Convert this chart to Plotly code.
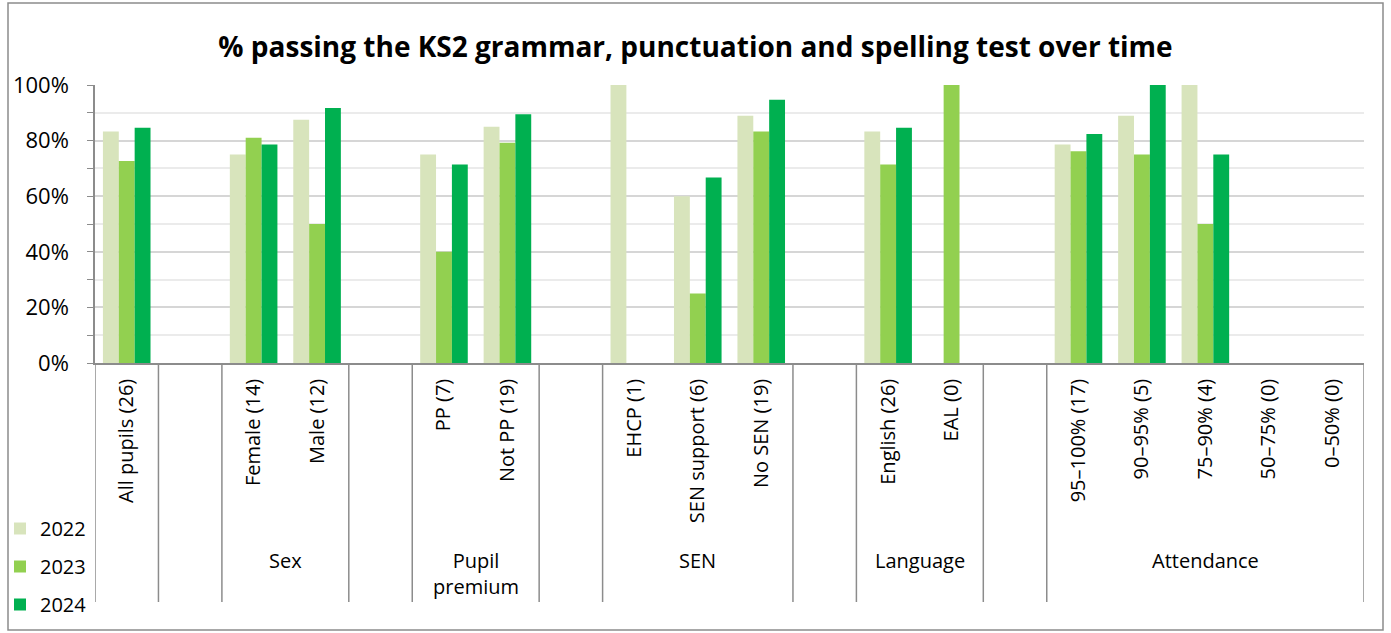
"""KS2 grammar, punctuation and spelling pass rates by pupil group, 2022-2024."""

import plotly.graph_objects as go

CATEGORIES = [
    "All pupils (26)", "",
    "Female (14)", "Male (12)", "",
    "PP (7)", "Not PP (19)", "",
    "EHCP (1)", "SEN support (6)", "No SEN (19)", "",
    "English (26)", "EAL (0)", "",
    "95–100% (17)", "90–95% (5)", "75–90% (4)", "50–75% (0)", "0–50% (0)",
]
GROUP_LABELS = ["", "", "Sex", "", "Pupil<br>premium", "", "SEN", "", "Language", "", "Attendance"]
GROUP_SIZES = [1, 1, 2, 1, 2, 1, 3, 1, 2, 1, 5]

YEARS = ["2022", "2023", "2024"]
V2022 = [0.833, None, 0.75, 0.875, None, 0.75, 0.85, None, 1.0, 0.60, 0.889, None,
         0.833, None, None, 0.786, 0.889, 1.0, None, None]
V2023 = [0.727, None, 0.81, 0.50, None, 0.40, 0.792, None, None, 0.25, 0.833, None,
         0.714, 1.0, None, 0.762, 0.75, 0.50, None, None]
V2024 = [0.846, None, 0.786, 0.917, None, 0.714, 0.895, None, None, 0.667, 0.947, None,
         0.846, None, None, 0.824, 1.0, 0.75, None, None]

COLORS = ["#D8E4BC", "#92D050", "#00B050"]
AXIS_GREY = "#8C8C8C"
FONT = "Open Sans"

W, H = 1391, 633
M_L, M_R, M_T, M_B = 95, 27, 85, 270
PLOT_W, PLOT_H = W - M_L - M_R, H - M_T - M_B


def px_to_paper_x(px):
    return (px - M_L) / PLOT_W


def px_to_paper_y(py):
    return (H - M_B - py) / PLOT_H


xs = list(range(len(CATEGORIES)))
fig = go.Figure()
for year, vals, color in zip(YEARS, (V2022, V2023, V2024), COLORS):
    fig.add_trace(
        go.Bar(
            x=xs, y=vals, name=year, marker_color=color,
            marker_line_width=0, legendgroup=year,
        )
    )

# group separators (extend from axis down through the label area)
sep_bottom = px_to_paper_y(602)
bounds = [0]
for s in GROUP_SIZES:
    bounds.append(bounds[-1] + s)
for b in bounds:
    fig.add_shape(
        type="line", xref="x", yref="paper",
        x0=b - 0.5, x1=b - 0.5, y0=0, y1=sep_bottom,
        line=dict(color=AXIS_GREY, width=1.5),
    )

# group labels
for label, start, size in zip(GROUP_LABELS, bounds[:-1], GROUP_SIZES):
    if not label:
        continue
    fig.add_annotation(
        x=start - 0.5 + size / 2, y=px_to_paper_y(545),
        xref="x", yref="paper", text=label, showarrow=False,
        yanchor="top", font=dict(family=FONT, size=20, color="#000000"),
    )

# chart border
fig.add_shape(
    type="rect", xref="paper", yref="paper",
    x0=px_to_paper_x(8), x1=px_to_paper_x(1383),
    y0=px_to_paper_y(630), y1=px_to_paper_y(3),
    line=dict(color=AXIS_GREY, width=1.5),
)

fig.update_layout(
    width=W, height=H,
    barmode="group", bargap=0.25, bargroupgap=0,
    margin=dict(l=M_L, r=M_R, t=M_T, b=M_B, autoexpand=False),
    plot_bgcolor="white", paper_bgcolor="white",
    font=dict(family=FONT, size=20, color="#000000"),
    title=dict(
        text="<b>% passing the KS2 grammar, punctuation and spelling test over time</b>",
        x=0.5, xref="container", xanchor="center",
        y=1 - 47 / H, yanchor="middle",
        font=dict(family=FONT, size=28, color="#000000"),
    ),
    legend=dict(
        x=px_to_paper_x(0), y=px_to_paper_y(509),
        xanchor="left", yanchor="top",
        bgcolor="rgba(0,0,0,0)", tracegroupgap=9,
        font=dict(family=FONT, size=20),
    ),
    showlegend=True,
)
fig.update_xaxes(
    range=[-0.5, len(CATEGORIES) - 0.5],
    tickmode="array", tickvals=xs, ticktext=CATEGORIES,
    tickangle=-90, ticks="", showgrid=False, ticklabelstandoff=6,
    showline=True, linecolor=AXIS_GREY, linewidth=1.5,
    tickfont=dict(family=FONT, size=20), automargin=False,
)
fig.update_yaxes(
    range=[0, 1], dtick=0.2, tickformat=".0%",
    showgrid=True, gridcolor="#D6D6D6", gridwidth=1.5,
    showline=True, linecolor=AXIS_GREY, linewidth=1.5,
    ticks="outside", ticklen=6, tickcolor=AXIS_GREY, ticklabelstandoff=14,
    minor=dict(dtick=0.1, showgrid=True, gridcolor="#EBEBEB", gridwidth=1.5,
               ticks="outside", ticklen=6, tickcolor=AXIS_GREY),
    tickfont=dict(family=FONT, size=22), automargin=False,
    zeroline=False,
)

# drop the browser's default body margin so the figure sits at the page origin
fig.write_html(
    "out.html",
    config={"displayModeBar": False},
    post_script="document.body.style.margin = '0';",
)
